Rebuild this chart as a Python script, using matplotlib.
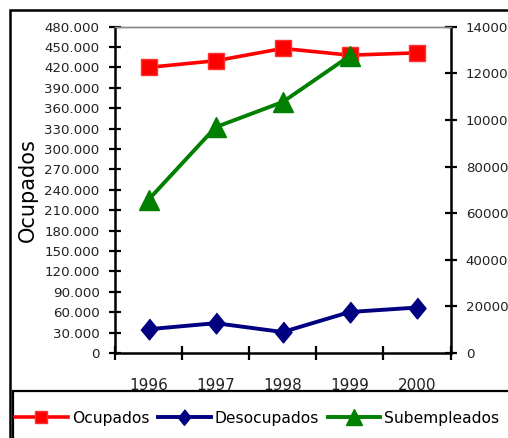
import matplotlib.pyplot as plt
from matplotlib.patches import Rectangle
from matplotlib.ticker import FuncFormatter

# data
years = ['1996', '1997', '1998', '1999', '2000']
ocupados = [420200, 429900, 448000, 438100, 441500]       # left axis
desocupados = [10200, 12800, 9000, 17600, 19500]          # right axis
subempleados = [65800, 96900, 107700, 127500]             # right axis, no 2000 value

W, H = 508, 438
fig = plt.figure(figsize=(W / 100, H / 100), dpi=100)

# axes box in pixel terms
ax = fig.add_axes([115 / W, 1 - 353 / H, 335.5 / W, (353 - 26.7) / H])
ax2 = ax.twinx()

x = [i + 0.5 for i in range(len(years))]

diamond = [(0, 1), (0.82, 0), (0, -1), (-0.82, 0)]

l1, = ax.plot(x, ocupados, color='#FF0000', lw=2.6, marker='s', ms=12,
              mfc='#FF0000', mec='#FF3030', mew=1, zorder=3)
l2, = ax2.plot(x, desocupados, color='#000080', lw=2.8, marker=diamond, ms=15,
               mfc='#000080', mec='#000080', zorder=3)
l3, = ax2.plot(x[:len(subempleados)], subempleados, color='#008000', lw=2.8,
               marker='^', ms=15, mfc='#008000', mec='#008000', zorder=3)

# left axis
ax.set_xlim(0, 5)
ax.set_ylim(0, 480000)
ax.set_yticks(range(0, 480001, 30000))
ax.yaxis.set_major_formatter(FuncFormatter(lambda v, p: f'{int(v):,}'.replace(',', '.')))
ax.tick_params(axis='y', direction='inout', length=8, width=1.6, labelsize=9.6,
               pad=7, colors='black', labelcolor='#222222')

# right axis
ax2.set_ylim(0, 140000)
ax2.set_yticks(range(0, 140001, 20000))
ax2.tick_params(axis='y', direction='inout', length=8, width=1.6, labelsize=9.6,
                pad=7, labelcolor='#222222')

# x axis: ticks at category borders, labels in the middle
ax.set_xticks(range(0, 6))
ax.set_xticklabels([])
ax.tick_params(axis='x', which='major', direction='inout', length=10, width=1.6)
ax.set_xticks(x, minor=True)
ax.set_xticklabels(years, minor=True)
ax.tick_params(axis='x', which='minor', length=0, labelsize=11, pad=18,
               labelcolor='#222222')

for a in (ax, ax2):
    for s in ('left', 'right', 'bottom'):
        a.spines[s].set_linewidth(1.8)
    a.spines['top'].set_color('#888888')
    a.spines['top'].set_linewidth(1)
ax.spines['right'].set_visible(False)
ax2.spines['left'].set_visible(False)
ax2.spines['bottom'].set_visible(False)

fig.text(27.5 / W, 1 - 190 / H, 'Ocupados', rotation=90, ha='center', va='center',
         fontsize=15)

# outer chart frame and the legend box
fig.patches.append(Rectangle((10 / W, -0.1), 1.2, 1.1 - 10 / H, transform=fig.transFigure,
                             fill=False, ec='black', lw=1.8, zorder=0))
fig.patches.append(Rectangle((13 / W, -0.1), 1.2, 0.1 + (H - 391) / H,
                             transform=fig.transFigure, fc='white', ec='black',
                             lw=1.6, zorder=5))

leg = fig.legend([l1, l2, l3], ['Ocupados', 'Desocupados', 'Subempleados'],
                 loc='center left', bbox_to_anchor=(15 / W, 1 - 418 / H), ncol=3,
                 frameon=False, fontsize=11.2, handlelength=3.4, handletextpad=0.25,
                 columnspacing=0.55, markerscale=0.75, borderaxespad=0, borderpad=0)
leg.set_zorder(6)

fig.savefig('out.png', dpi=100)
